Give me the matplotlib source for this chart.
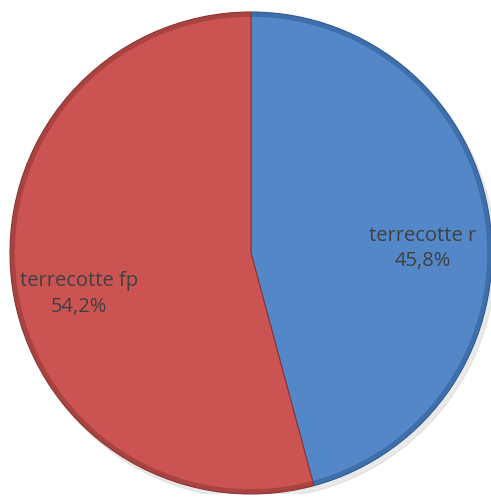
import matplotlib.pyplot as plt

categories = ["terrecotte r", "terrecotte fp"]
values = [45.8, 54.2]
pct_labels = ["45,8%", "54,2%"]
colors = ["#5387C8", "#CB5452"]
edge_colors = ["#2F5C93", "#8E3533"]

fig = plt.figure(figsize=(4.91, 4.98), dpi=100)
ax = fig.add_axes([10 / 491, 4 / 498, 482 / 491, 482 / 498])

labels = [f"{c}\n{p}" for c, p in zip(categories, pct_labels)]
wedges, texts = ax.pie(values, labels=labels, colors=colors, startangle=90,
                       counterclock=False, labeldistance=0.72,
                       wedgeprops=dict(linewidth=0),
                       textprops=dict(fontsize=14.5, color="#404040",
                                      family="Open Sans", ha="center",
                                      va="center", linespacing=1.35))

# labels sit a bit lower than the mid-angle in the original
for t in texts:
    x, y = t.get_position()
    t.set_position((x, y - 0.075))

# soft shadow under the pie
shadow = plt.Circle((0.015, -0.02), 1.0, color="#bbbbbb", alpha=0.3, zorder=0)
ax.add_patch(shadow)

# darker bevel along the rim
ax.pie(values, colors=edge_colors, startangle=90, counterclock=False,
       radius=1.0, wedgeprops=dict(width=0.02, linewidth=0, alpha=0.55))

for w, ec in zip(wedges, edge_colors):
    w.set_edgecolor(ec)
    w.set_linewidth(0.8)

ax.set_xlim(-1.0, 1.0)
ax.set_ylim(-1.0, 1.0)
ax.set_aspect("equal")
ax.axis("off")

fig.savefig("out.png", dpi=100)
